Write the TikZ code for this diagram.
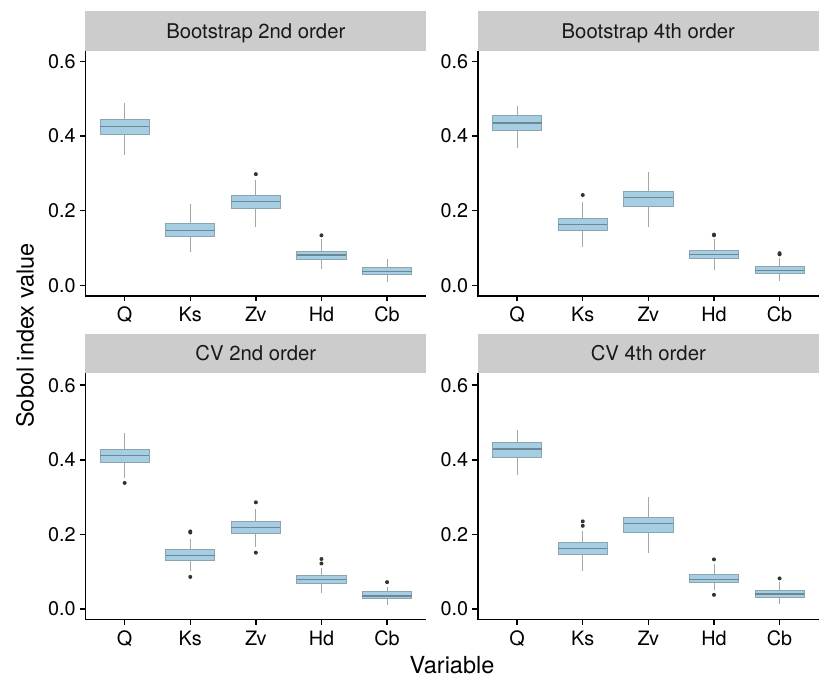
\documentclass[tikz,border=0pt]{standalone}
\usepackage{fontspec}
\setmainfont{TeX Gyre Heros}
\definecolor{stripgrey}{HTML}{CCCCCC}
\definecolor{boxblue}{HTML}{A6CEE3}
\definecolor{boxedge}{HTML}{8CA3B0}
\definecolor{medline}{HTML}{6E8796}
\definecolor{whiskergrey}{HTML}{A6A6A6}
\definecolor{outlierdark}{HTML}{333333}
\begin{document}
\begin{tikzpicture}[x=1pt,y=-1pt]
        \tikzset{axis/.style={line width=1.4pt},
                 strip/.style={fill=stripgrey},
                 striptext/.style={font=\fontsize{20.3}{24}\selectfont, inner sep=0pt, anchor=base, text=black!90},
                 ticktext/.style={font=\fontsize{19.8}{23}\selectfont, inner sep=0pt, text=black},
                 titletext/.style={font=\fontsize{23.5}{28}\selectfont, inner sep=0pt},
                 whisker/.style={draw=whiskergrey, line width=0.9pt},
                 sobolbox/.style={fill=boxblue, draw=boxedge, line width=0.9pt},
                 median/.style={draw=medline, line width=1.2pt},
                 outlier/.style={fill=outlierdark},
                 panel/.style 2 args={shift={(#1,#2)}, x=65.6pt, y=373pt}}
        \useasboundingbox (0,0) rectangle (830,692);

        % strips, axes and ticks
        \foreach \p/\xl/\yt/\yz/\title in {1/85.3/51/285.3/{Bootstrap 2nd order},
                                           2/477.8/51/285.3/{Bootstrap 4th order},
                                           3/85.3/373.3/609/{CV 2nd order},
                                           4/477.8/373.3/609/{CV 4th order}}
        {
          \fill[strip] (\xl,\yt-39.5) rectangle (\xl+341,\yt);
          \node[striptext] (strip\p) at (\xl+170.5,\yt-12.3) {\title};
          \draw[axis] (\xl,\yt) -- (\xl,\yz+10.7) -- (\xl+341,\yz+10.7);
          \foreach \v/\t in {0/0.0,1/0.2,2/0.4,3/0.6}
          {
            \draw[axis] (\xl,\yz-\v*74.6) -- (\xl-5.5,\yz-\v*74.6);
            \node[ticktext, anchor=east] (ylab\p\v) at (\xl-9.5,\yz-\v*74.6) {\t};
          }
          \foreach \i/\lab in {1/Q,2/Ks,3/Zv,4/Hd,5/Cb}
          {
            \draw[axis] (\xl-26.24+\i*65.6,\yz+10.7) -- (\xl-26.24+\i*65.6,\yz+16.2);
            \node[ticktext, anchor=base] (xlab\p\i) at (\xl-26.24+\i*65.6,\yz+36.7) {\lab};
          }
        }

        \node[titletext, rotate=90] (ylabel) at (25,335.5) {Sobol index value};
        \node[titletext, anchor=base] (xlabel) at (452,673) {Variable};

        % Bootstrap 2nd order
        \begin{scope}[panel={59.06}{285.3}]
          \foreach \i/\lw/\qa/\me/\qb/\uw in {1/0.348/0.405/0.426/0.445/0.488,
                                              2/0.089/0.130/0.146/0.166/0.218,
                                              3/0.157/0.206/0.225/0.240/0.283,
                                              4/0.043/0.070/0.081/0.092/0.125,
                                              5/0.010/0.028/0.037/0.047/0.070}
          {
            \draw[whisker] (\i,\lw) -- (\i,\qa) (\i,\qb) -- (\i,\uw);
            \filldraw[sobolbox] (\i-0.375,\qa) rectangle (\i+0.375,\qb);
            \draw[median] (\i-0.375,\me) -- (\i+0.375,\me);
          }
          \foreach \i/\v in {3/0.298,4/0.134}
            \fill[outlier] (\i,\v) circle (2pt);
        \end{scope}

        % Bootstrap 4th order
        \begin{scope}[panel={451.56}{285.3}]
          \foreach \i/\lw/\qa/\me/\qb/\uw in {1/0.369/0.416/0.435/0.456/0.481,
                                              2/0.104/0.147/0.164/0.180/0.224,
                                              3/0.155/0.212/0.236/0.252/0.303,
                                              4/0.040/0.071/0.083/0.094/0.123,
                                              5/0.012/0.031/0.040/0.050/0.074}
          {
            \draw[whisker] (\i,\lw) -- (\i,\qa) (\i,\qb) -- (\i,\uw);
            \filldraw[sobolbox] (\i-0.375,\qa) rectangle (\i+0.375,\qb);
            \draw[median] (\i-0.375,\me) -- (\i+0.375,\me);
          }
          \foreach \i/\v in {2/0.242,4/0.134,4/0.136,5/0.083,5/0.086}
            \fill[outlier] (\i,\v) circle (2pt);
        \end{scope}

        % CV 2nd order
        \begin{scope}[panel={59.06}{609}]
          \foreach \i/\lw/\qa/\me/\qb/\uw in {1/0.350/0.393/0.412/0.429/0.471,
                                              2/0.103/0.131/0.144/0.160/0.187,
                                              3/0.167/0.202/0.219/0.235/0.269,
                                              4/0.042/0.069/0.080/0.090/0.109,
                                              5/0.011/0.029/0.035/0.046/0.060}
          {
            \draw[whisker] (\i,\lw) -- (\i,\qa) (\i,\qb) -- (\i,\uw);
            \filldraw[sobolbox] (\i-0.375,\qa) rectangle (\i+0.375,\qb);
            \draw[median] (\i-0.375,\me) -- (\i+0.375,\me);
          }
          \foreach \i/\v in {1/0.338,2/0.205,2/0.208,2/0.086,3/0.286,3/0.151,4/0.134,4/0.122,5/0.072}
            \fill[outlier] (\i,\v) circle (2pt);
        \end{scope}

        % CV 4th order
        \begin{scope}[panel={451.56}{609}]
          \foreach \i/\lw/\qa/\me/\qb/\uw in {1/0.359/0.405/0.429/0.447/0.480,
                                              2/0.103/0.147/0.162/0.178/0.210,
                                              3/0.149/0.206/0.230/0.246/0.301,
                                              4/0.051/0.072/0.080/0.093/0.120,
                                              5/0.013/0.031/0.040/0.050/0.072}
          {
            \draw[whisker] (\i,\lw) -- (\i,\qa) (\i,\qb) -- (\i,\uw);
            \filldraw[sobolbox] (\i-0.375,\qa) rectangle (\i+0.375,\qb);
            \draw[median] (\i-0.375,\me) -- (\i+0.375,\me);
          }
          \foreach \i/\v in {2/0.235,2/0.223,4/0.133,4/0.038,5/0.082}
            \fill[outlier] (\i,\v) circle (2pt);
        \end{scope}
      \end{tikzpicture}
\end{document}
